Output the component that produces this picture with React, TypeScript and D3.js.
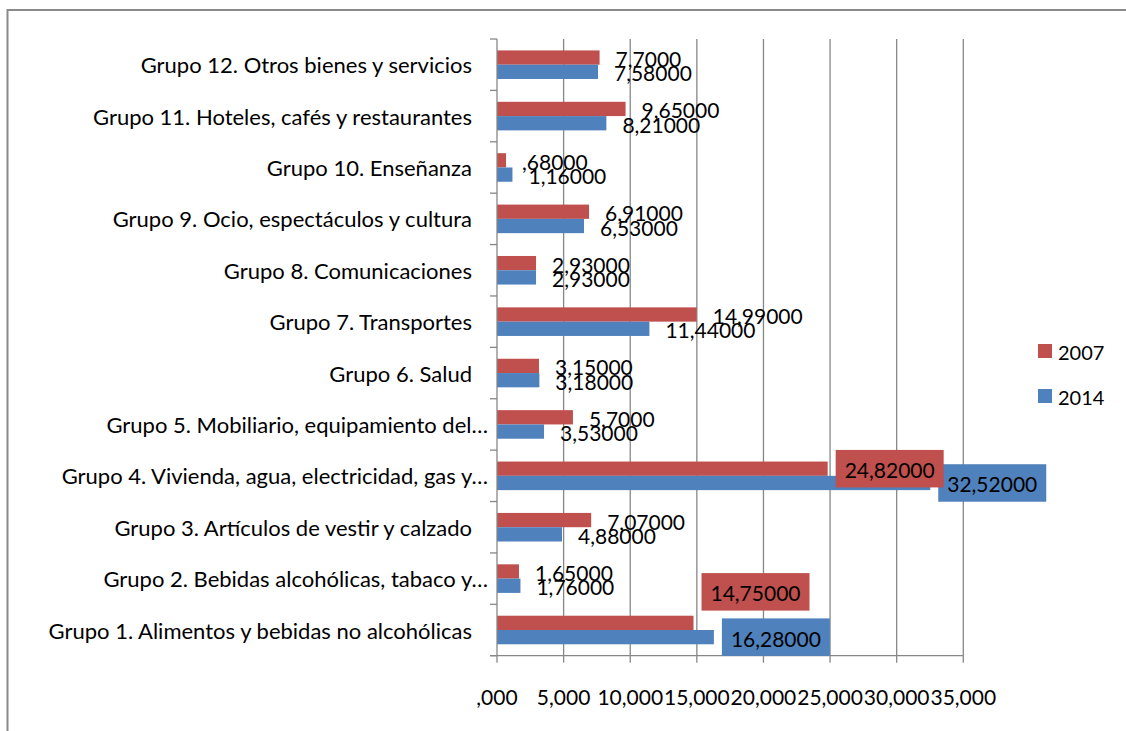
import React from 'react';
import * as d3 from 'd3';

// categories in Excel order (first one drawn at the bottom)
const categories = [
  'Grupo 1. Alimentos y bebidas no alcohólicas',
  'Grupo 2. Bebidas alcohólicas, tabaco y…',
  'Grupo 3. Artículos de vestir y calzado',
  'Grupo 4. Vivienda, agua, electricidad, gas y…',
  'Grupo 5. Mobiliario, equipamiento del…',
  'Grupo 6. Salud',
  'Grupo 7. Transportes',
  'Grupo 8. Comunicaciones',
  'Grupo 9. Ocio, espectáculos y cultura',
  'Grupo 10. Enseñanza',
  'Grupo 11. Hoteles, cafés y restaurantes',
  'Grupo 12. Otros bienes y servicios',
];

const values2007 = [14.75, 1.65, 7.07, 24.82, 5.7, 3.15, 14.99, 2.93, 6.91, 0.68, 9.65, 7.7];
const values2014 = [16.28, 1.76, 4.88, 32.52, 3.53, 3.18, 11.44, 2.93, 6.53, 1.16, 8.21, 7.58];

const labels2007 = ['14,75000', '1,65000', '7,07000', '24,82000', '5,7000', '3,15000', '14,99000', '2,93000', '6,91000', ',68000', '9,65000', '7,7000'];
const labels2014 = ['16,28000', '1,76000', '4,88000', '32,52000', '3,53000', '3,18000', '11,44000', '2,93000', '6,53000', '1,16000', '8,21000', '7,58000'];

const seriesNames = ['2007', '2014'];
const xTicks = [0, 5, 10, 15, 20, 25, 30, 35];

// labels that Excel drew with a filled box
const boxedCategories = ['Grupo 4. Vivienda, agua, electricidad, gas y…', 'Grupo 1. Alimentos y bebidas no alcohólicas'];

const colors: Record<string, string> = { '2007': '#C0504D', '2014': '#4F81BD' };
const font = 'Lato, "Open Sans", sans-serif';
const gridColor = '#878787';

export default function App() {
  const width = 1126;
  const height = 731;
  const left = 497;
  const right = 963.3;
  const top = 39;
  const bottom = 655.7;

  const x = d3.scaleLinear().domain([0, 35]).range([left, right]);
  const y = d3.scaleBand<string>()
    .domain(categories.slice().reverse())
    .range([top, bottom])
    .paddingInner(0.444)
    .paddingOuter(0.222);
  const inner = d3.scaleBand<string>().domain(seriesNames).range([0, y.bandwidth()]);

  const esLocale = d3.formatLocale({ decimal: ',', thousands: '.', grouping: [3], currency: ['', '€'] });
  const fmt = (v: number) => esLocale.format('.3f')(v).replace(/^0,/, ',');

  const series = [
    { name: '2007', values: values2007, labels: labels2007 },
    { name: '2014', values: values2014, labels: labels2014 },
  ];

  const step = y.step();
  const boundaries = d3.range(categories.length + 1).map(i => top + i * step);

  return (
    <div style={{ position: 'absolute', left: 0, top: 0 }}>
      <svg width={width} height={height} style={{ display: 'block', background: '#fff' }}>
        {/* chart frame */}
        <rect x={7.5} y={10} width={width + 20} height={height + 20} fill="none" stroke="#8a8a8a" strokeWidth={2} />

        {/* vertical gridlines */}
        {xTicks.slice(1).map(t => (
          <line key={'g' + t} x1={x(t)} x2={x(t)} y1={top} y2={bottom} stroke={gridColor} strokeWidth={1.3} />
        ))}

        {/* bars */}
        {series.map(s => (
          <g key={s.name}>
            {categories.map((c, i) => (
              <rect
                key={c}
                x={x(0)}
                y={(y(c) as number) + (inner(s.name) as number)}
                width={x(s.values[i]) - x(0)}
                height={inner.bandwidth()}
                fill={colors[s.name]}
              />
            ))}
          </g>
        ))}

        {/* axes */}
        <line x1={left} x2={left} y1={top} y2={bottom} stroke={gridColor} strokeWidth={1.3} />
        {boundaries.map((b, i) => (
          <line key={'yt' + i} x1={left - 7} x2={left} y1={b} y2={b} stroke={gridColor} strokeWidth={1.3} />
        ))}
        <line x1={left - 7} x2={right} y1={bottom} y2={bottom} stroke={gridColor} strokeWidth={1.3} />
        {xTicks.map(t => (
          <line key={'xt' + t} x1={x(t)} x2={x(t)} y1={bottom} y2={bottom + 7} stroke={gridColor} strokeWidth={1.3} />
        ))}

        {/* x tick labels */}
        {xTicks.map(t => (
          <text key={'xl' + t} x={x(t)} y={696} textAnchor="middle" dominantBaseline="central"
            fontFamily={font} fontSize={21} fill="#000">
            {fmt(t)}
          </text>
        ))}

        {/* category labels */}
        {categories.map(c => (
          <text
            key={'cl' + c}
            x={c.endsWith('…') ? left - 9 : left - 25}
            y={(y(c) as number) + y.bandwidth() / 2}
            textAnchor="end"
            dominantBaseline="central"
            fontFamily={font}
            fontSize={22}
            fill="#000"
          >
            {c}
          </text>
        ))}

        {/* data labels, 2014 below 2007 */}
        {series.slice().reverse().map(s => (
          <g key={'dl' + s.name}>
            {categories.map((c, i) => {
              const barEnd = x(s.values[i]);
              const cy = (y(c) as number) + (inner(s.name) as number) + inner.bandwidth() / 2;
              if (boxedCategories.includes(c)) {
                // Excel lifted the 2007 label of the first group above its bar
                const lift = i === 0 && s.name === '2007' ? -31 : 0;
                const bw = 108;
                const bh = 37.5;
                return (
                  <g key={c}>
                    <rect x={barEnd + 8} y={cy + lift - bh / 2} width={bw} height={bh} fill={colors[s.name]} />
                    <text x={barEnd + 8 + bw / 2} y={cy + lift + 1} textAnchor="middle" dominantBaseline="central"
                      fontFamily={font} fontSize={21} fill="#000">
                      {s.labels[i]}
                    </text>
                  </g>
                );
              }
              return (
                <text key={c} x={barEnd + 16} y={cy + 1} dominantBaseline="central"
                  fontFamily={font} fontSize={21} fill="#000">
                  {s.labels[i]}
                </text>
              );
            })}
          </g>
        ))}

        {/* legend */}
        {seriesNames.map((n, i) => (
          <g key={'lg' + n} transform={`translate(1038, ${344 + i * 45})`}>
            <rect width={14} height={14} fill={colors[n]} />
            <text x={20} y={8} dominantBaseline="central" fontFamily={font} fontSize={20} fill="#000">{n}</text>
          </g>
        ))}
      </svg>
    </div>
  );
}
